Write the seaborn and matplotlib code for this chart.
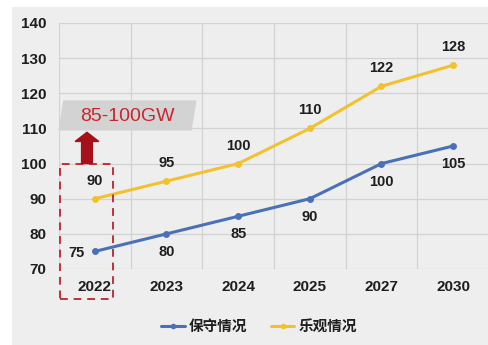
import matplotlib
matplotlib.use("Agg")
import matplotlib.pyplot as plt
from matplotlib.patches import Polygon, Rectangle, FancyArrow
from matplotlib.lines import Line2D
import seaborn as sns
import pandas as pd

years = ["2022", "2023", "2024", "2025", "2027", "2030"]
conservative = [75, 80, 85, 90, 100, 105]
optimistic = [90, 95, 100, 110, 122, 128]
series_names = ["保守情况", "乐观情况"]
callout_text = "85-100GW"
y_ticks = [70, 80, 90, 100, 110, 120, 130, 140]

blue = "#4a70b6"
gold = "#f2c12e"
dark = "#1e1e1e"
red_text = "#c8262e"

sns.set_theme(style="white")
plt.rcParams["font.family"] = ["Liberation Sans", "Noto Sans CJK SC", "DejaVu Sans"]

df = pd.DataFrame({
    "year": years * 2,
    "value": conservative + optimistic,
    "scenario": [series_names[0]] * len(years) + [series_names[1]] * len(years),
})

fig = plt.figure(figsize=(4.89, 3.45), dpi=100)
fig.patch.set_facecolor("white")
# light grey card behind the chart
fig.patches.append(Rectangle((12 / 489, 0), 1 - 12 / 489, 1 - 7 / 345,
                             transform=fig.transFigure, facecolor="#eeeeee",
                             edgecolor="none", zorder=-10))

ax = fig.add_axes([59 / 489, 1 - 269 / 345, 430 / 489, 246 / 345])
ax.set_facecolor("none")

sns.lineplot(data=df, x="year", y="value", hue="scenario",
             palette={series_names[0]: blue, series_names[1]: gold},
             marker="o", markersize=5, markeredgewidth=0, linewidth=2.2,
             sort=False, legend=False, ax=ax, zorder=3)

ax.set_xlim(-0.5, len(years) - 0.5)
ax.set_ylim(70, 140)
ax.set_yticks(y_ticks)
ax.set_xticks(range(len(years)))
ax.set_xticklabels(years)
ax.set_xticks([i - 0.5 for i in range(len(years) + 1)], minor=True)
ax.grid(False)
ax.grid(True, axis="y", which="major", color="#d2d2d2", linewidth=0.9)
ax.grid(True, axis="x", which="minor", color="#d2d2d2", linewidth=0.9)
ax.tick_params(axis="both", which="both", length=0, labelsize=11, colors=dark)
ax.tick_params(axis="y", pad=9)
ax.tick_params(axis="x", pad=8)
for lab in ax.get_xticklabels() + ax.get_yticklabels():
    lab.set_fontweight("bold")
ax.set_xlabel("")
ax.set_ylabel("")
for s in ax.spines.values():
    s.set_visible(False)

# value labels
for i, v in enumerate(optimistic):
    ax.annotate(str(v), (i, v), xytext=(0, 13), textcoords="offset points",
                ha="center", va="center", fontsize=10.5, fontweight="bold", color=dark)
for i, v in enumerate(conservative):
    if i == 0:
        off = (-13, -1)
    else:
        off = (0, -13)
    ax.annotate(str(v), (i, v), xytext=off, textcoords="offset points",
                ha="center", va="center", fontsize=10.5, fontweight="bold", color=dark)

# highlight for the first year
ax.add_patch(Rectangle((-0.49, 61.4), 0.75, 38.6, fill=False, edgecolor="#c0303c",
                       linestyle=(0, (4, 3)), linewidth=1.4, clip_on=False, zorder=4))
ax.add_patch(FancyArrow(-0.11, 100, 0, 8.9, width=0.15, head_width=0.33,
                        head_length=2.6, length_includes_head=True,
                        color="#a5101a", clip_on=False, zorder=4))
ax.add_patch(Polygon([(-0.51, 109.4), (1.35, 109.4), (1.42, 118.0), (-0.44, 118.0)],
                     closed=True, facecolor="#d3d3d3", edgecolor="none",
                     clip_on=False, zorder=2))
ax.text(0.45, 113.4, callout_text, ha="center", va="center", fontsize=14,
        color=red_text, zorder=5)

handles = [Line2D([0], [0], color=blue, lw=2.2, marker="o", markersize=4, markeredgewidth=0),
           Line2D([0], [0], color=gold, lw=2.2, marker="o", markersize=4, markeredgewidth=0)]
leg = fig.legend(handles, series_names, loc="center", bbox_to_anchor=(0.53, 1 - 327 / 345),
                 ncol=2, frameon=False, handlelength=1.6, handletextpad=0.3,
                 columnspacing=1.6, prop={"size": 10.5, "weight": "bold"})
for t in leg.get_texts():
    t.set_color(dark)

fig.savefig("out.png", dpi=100)
